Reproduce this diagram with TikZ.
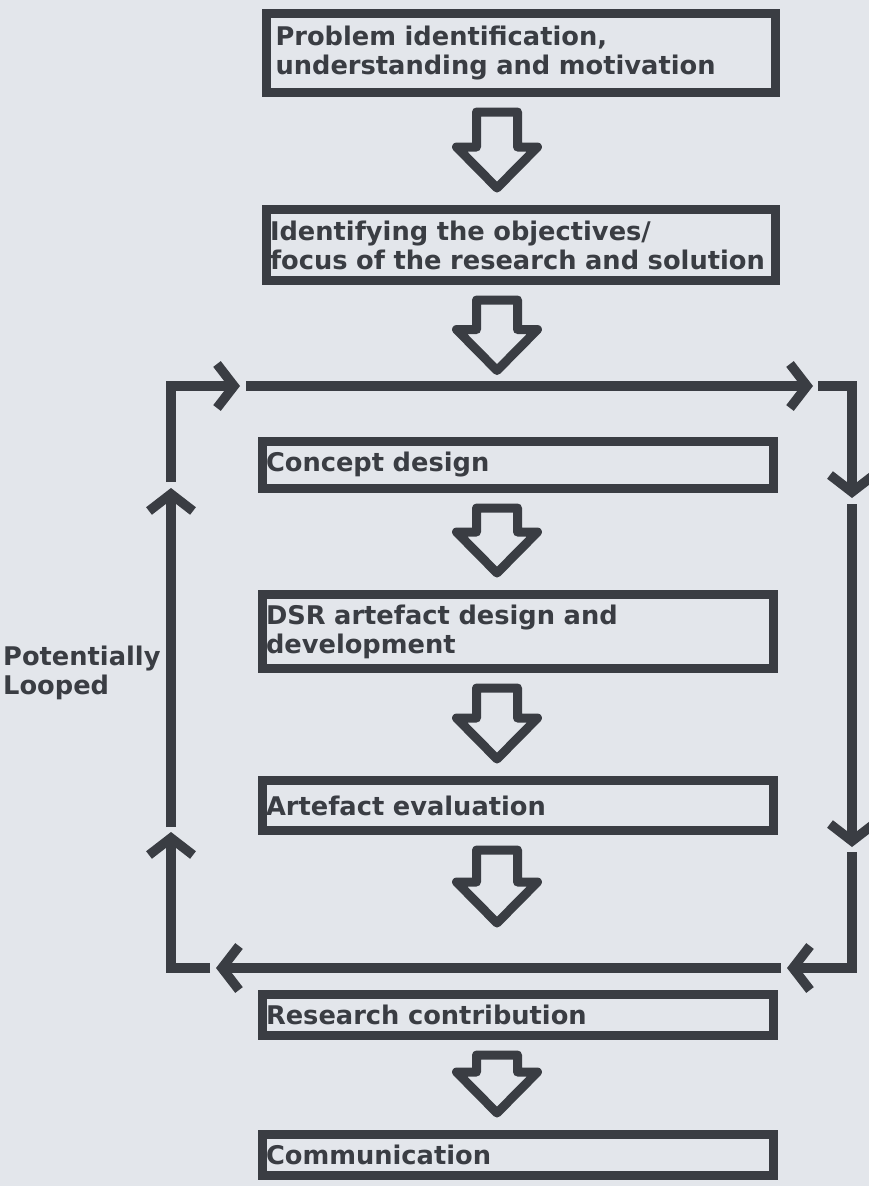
\documentclass[tikz,border=0pt]{standalone}
\usepackage{fontspec}
\setmainfont{DejaVu Sans}
\usetikzlibrary{arrows.meta,calc}
\definecolor{ink}{RGB}{58,61,67}
\definecolor{paper}{RGB}{227,230,235}
% hollow block arrow: #1 = middle of the shaft top, #2 = tip
\newcommand\blockarrow[2]{%
  \draw[blockarr] ($(#1)+(-20.5,0)$) -- ($(#2)+(-20.5,-41)$) -- ($(#2)+(-40.5,-41)$)
    -- (#2) -- ($(#2)+(40.5,-41)$) -- ($(#2)+(20.5,-41)$) -- ($(#1)+(20.5,0)$) -- cycle;}
\begin{document}
\begin{tikzpicture}[x=1pt,y=-1pt,
  stepbox/.style={draw=ink, line width=9pt, text=ink, align=left, inner ysep=0pt,
    font=\bfseries\fontsize{25.7}{29}\selectfont},
  blockarr/.style={draw=ink, line width=9pt, line join=round},
  loopline/.style={draw=ink, line width=9.5pt, line join=miter,
    -{Straight Barb[length=17pt,width=44pt]}},
  sidelabel/.style={text=ink, align=left, inner sep=0pt,
    font=\bfseries\fontsize{25.7}{29}\selectfont}]
\fill[paper] (0,0) rectangle (869,1186);
\useasboundingbox (0,0) rectangle (869,1186);

% process steps
\node[stepbox, inner xsep=9pt, text width=491pt, minimum height=79pt] (b1) at (521,53)
  {Problem identification,\\understanding and motivation};
\node[stepbox, inner xsep=3.5pt, text width=502pt, minimum height=71pt] (b2) at (521,245)
  {Identifying the objectives/\\focus of the research and solution};
\node[stepbox, inner xsep=3.5pt, text width=504pt, minimum height=47pt] (b3) at (518,465)
  {Concept design};
\node[stepbox, inner xsep=3.5pt, text width=504pt, minimum height=74pt] (b4) at (518,631.5)
  {DSR artefact design and\\development};
\node[stepbox, inner xsep=3.5pt, text width=504pt, minimum height=50pt] (b5) at (518,805.5)
  {Artefact evaluation};
\node[stepbox, inner xsep=3.5pt, text width=504pt, minimum height=41pt] (b6) at (518,1015)
  {Research contribution};
\node[stepbox, inner xsep=3.5pt, text width=504pt, minimum height=41pt] (b7) at (518,1155)
  {Communication};

% iteration loop around the design steps
\coordinate (TL) at (171,386);
\coordinate (TR) at (852,386);
\coordinate (BR) at (852,968);
\coordinate (BL) at (171,968);
\coordinate (l1) at (171,482);  \coordinate (t1) at (240,386);
\coordinate (t2) at (246,386);  \coordinate (t3) at (813,386);
\coordinate (t4) at (818,386);  \coordinate (r1) at (852,498);
\coordinate (r2) at (852,504);  \coordinate (r3) at (852,847);
\coordinate (r4) at (852,852);  \coordinate (d1) at (787,968);
\coordinate (d2) at (781,968);  \coordinate (d3) at (216,968);
\coordinate (d4) at (210,968);  \coordinate (l4) at (171,832);
\coordinate (l3) at (171,827);  \coordinate (l2) at (171,488);
\draw[loopline] (l1) -- (TL) -- (t1);
\draw[loopline] (t2) -- (t3);
\draw[loopline] (t4) -- (TR) -- (r1);
\draw[loopline] (r2) -- (r3);
\draw[loopline] (r4) -- (BR) -- (d1);
\draw[loopline] (d2) -- (d3);
\draw[loopline] (d4) -- (BL) -- (l4);
\draw[loopline] (l3) -- (l2);

% block arrows between the steps
\coordinate (ax) at (497,0);
\foreach \u/\v in {b1/b2, b3/b4, b4/b5, b6/b7}{
  \coordinate (top) at ($(\u.south -| ax)+(0,15)$);
  \coordinate (tip) at ($(\v.north -| ax)+(0,-17)$);
  \blockarrow{top}{tip}
}
% the two arrows that end at the loop lines
\coordinate (top2) at ($(b2.south -| ax)+(0,15)$);
\coordinate (tip2) at ($(TL -| ax)+(0,-15.5)$);
\blockarrow{top2}{tip2}
\coordinate (top5) at ($(b5.south -| ax)+(0,15)$);
\coordinate (tip5) at ($(BL -| ax)+(0,-45)$);
\blockarrow{top5}{tip5}

\node[sidelabel, anchor=west] (lbl) at (3,673) {Potentially\\Looped};
\end{tikzpicture}
\end{document}
